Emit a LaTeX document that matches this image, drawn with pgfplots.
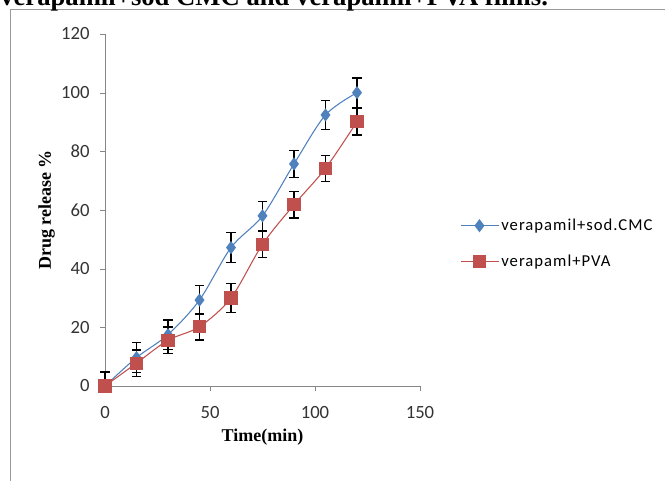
\documentclass[border=0pt]{standalone}
\usepackage{pgfplots}
\pgfplotsset{compat=1.18}
\usepackage{fontspec}
\setmainfont{Liberation Serif}
\newfontfamily\calib{Carlito}
\newfontfamily\legfont[LetterSpace=6]{Carlito}
\definecolor{cmcblue}{HTML}{4F81BD}
\definecolor{pvared}{HTML}{C0504D}
\definecolor{axgray}{HTML}{868686}

% t = time (min), r = release (%), ep/em = error bar up/down
\pgfplotstableread{
t   r     ep   em
0   0     5    0
15  9.7   5    5
30  17.5  5    5
45  29.3  5    5
60  47.2  5    5
75  58.0  5    5
90  75.7  4.5  4.5
105 92.4  5    5
120 100   5    5
}\cmcdata

\pgfplotstableread{
t   r     ep   em
0   0     4.5  0
15  7.8   4.5  4.5
30  15.6  4.5  4.5
45  20.2  4.5  4.5
60  30.0  5    5
75  48.3  4.5  4.5
90  61.8  4.5  4.5
105 74.2  4.5  4.5
120 90.1  4.5  4.5
}\pvadata

\begin{document}
\begin{tikzpicture}
\useasboundingbox (0pt,0pt) rectangle (498.75pt,-360.75pt);
% outer chart frame and the clipped caption above it
\draw[black!40] (7.5pt,-362pt) -- (7.5pt,-7.2pt) -- (500pt,-7.2pt);
\node[anchor=base west, inner sep=0pt, font=\bfseries\fontsize{20}{24}\selectfont]
  at (0pt,-4.3pt) {verapamil+sod CMC and verapamil+PVA films.};

\begin{axis}[
  at={(78.75pt,-289.5pt)}, anchor=south west,
  scale only axis, width=236.25pt, height=264pt,
  xmin=0, xmax=150, ymin=0, ymax=120,
  xtick={0,50,100,150}, ytick={0,20,...,120},
  axis lines*=left,
  axis line style={-, axgray},
  tick align=outside, major tick length=3.5pt,
  tick style={axgray},
  ticklabel style={font=\calib\fontsize{14}{16}\selectfont, text=black!80},
  xticklabel style={yshift=-8pt},
  yticklabel style={xshift=-4.5pt},
  /pgf/number format/assume math mode=true,
  xlabel={\bfseries Time(min)}, ylabel={\bfseries Drug release \%},
  label style={font=\fontsize{13.5}{16}\selectfont},
  xlabel style={at={(axis description cs:0.5,-0.145)}, anchor=center},
  ylabel style={at={(axis description cs:-0.185,0.5)}, anchor=center},
  legend style={at={(1.127,0.483)}, anchor=north west, draw=none, fill=none,
    font=\legfont\fontsize{12.5}{14}\selectfont, row sep=13pt, inner sep=0pt},
  legend cell align=left,
  legend image code/.code={\draw[mark repeat=2,mark phase=2] plot coordinates {(0pt,0pt) (14pt,0pt) (28pt,0pt)};},
  clip=false,
]
\addplot[cmcblue, line width=0.8pt, smooth, mark=diamond*, mark size=4.3pt,
  mark options={fill=cmcblue, draw=cmcblue},
  error bars/.cd, y dir=both, y explicit,
  error bar style={black, line width=0.9pt},
  error mark options={rotate=90, black, mark size=3.5pt, line width=0.9pt}]
  table[x=t, y=r, y error plus=ep, y error minus=em] {\cmcdata};
\addlegendentry{verapamil+sod.CMC}
\addplot[pvared, line width=0.8pt, smooth, mark=square*, mark size=4.5pt,
  mark options={fill=pvared, draw=pvared},
  error bars/.cd, y dir=both, y explicit,
  error bar style={black, line width=0.9pt},
  error mark options={rotate=90, black, mark size=3.5pt, line width=0.9pt}]
  table[x=t, y=r, y error plus=ep, y error minus=em] {\pvadata};
\addlegendentry{verapaml+PVA}
\end{axis}
\end{tikzpicture}
\end{document}
